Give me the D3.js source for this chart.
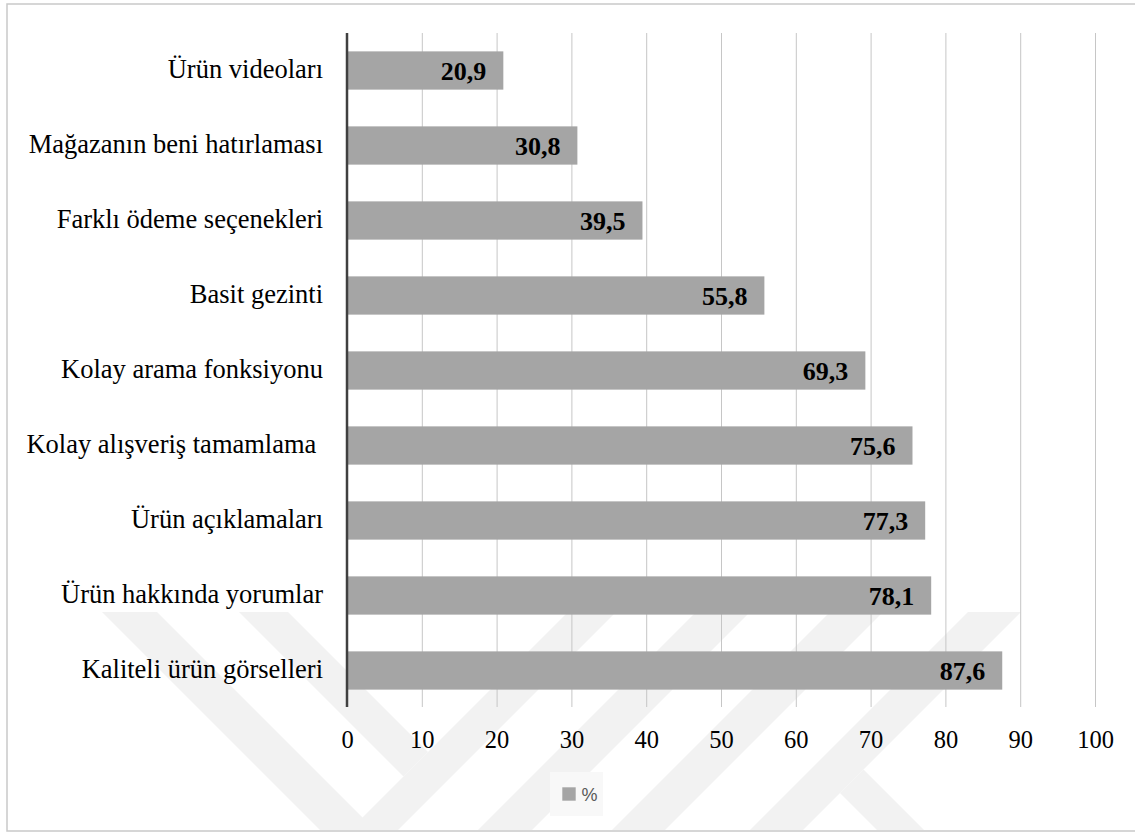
<!DOCTYPE html>
<html>
<head>
<meta charset="utf-8">
<script src="https://cdn.jsdelivr.net/npm/d3@7/dist/d3.min.js"></script>
<style>
  html, body { margin: 0; padding: 0; background: #ffffff; }
  svg { display: block; }
</style>
</head>
<body>
<svg id="chart" width="1135" height="832"></svg>
<script>
// Survey results: share of respondents (%) naming each feature
const categories = [
  "Ürün videoları",
  "Mağazanın beni hatırlaması",
  "Farklı ödeme seçenekleri",
  "Basit gezinti",
  "Kolay arama fonksiyonu",
  "Kolay alışveriş tamamlama ",
  "Ürün açıklamaları",
  "Ürün hakkında yorumlar",
  "Kaliteli ürün görselleri"
];
const values = [20.9, 30.8, 39.5, 55.8, 69.3, 75.6, 77.3, 78.1, 87.6];
const xTicks = [0, 10, 20, 30, 40, 50, 60, 70, 80, 90, 100];
const seriesName = "%";

const W = 1135, H = 832;
const plot = { left: 347, right: 1095, top: 33, bottom: 708 };
const serif = "'Liberation Serif', 'Times New Roman', serif";
const barColor = "#a5a5a5";

const svg = d3.select("#chart");

// Outer frame
svg.append("rect")
  .attr("x", 7).attr("y", 4)
  .attr("width", W + 10).attr("height", 827)
  .attr("fill", "#ffffff")
  .attr("stroke", "#c9c9c9").attr("stroke-width", 1.5);

// Faint background emblem made of diagonal bands
svg.append("defs").append("clipPath").attr("id", "wmClip")
  .append("rect").attr("x", 8).attr("y", 612).attr("width", W).attr("height", 218);
const wm = svg.append("g").attr("clip-path", "url(#wmClip)");
const emblem = [
  [[102, 612], [157, 612], [385, 840], [330, 840]],
  [[239, 612], [288, 612], [428, 752], [403.5, 776.5]],
  [[568, 612], [616, 612], [388, 840], [340, 840]],
  [[696, 612], [750, 612], [522, 840], [468, 840]],
  [[830, 612], [883, 612], [655, 840], [602, 840]],
  [[968, 612], [1021, 612], [793, 840], [740, 840]],
  [[863.5, 769.5], [934, 840], [887, 840], [840, 793]]
];
wm.selectAll("polygon").data(emblem).join("polygon")
  .attr("points", d => d.map(p => p.join(",")).join(" "))
  .attr("fill", "#f2f2f2");

// Scales
const x = d3.scaleLinear().domain([0, 100]).range([plot.left, plot.right]);
const y = d3.scaleBand().domain(categories)
  .range([plot.top, plot.bottom])
  .paddingInner(0.49).paddingOuter(0.245);

// Vertical gridlines
const grid = svg.append("g")
  .attr("transform", `translate(0,${plot.bottom - 1})`)
  .call(d3.axisBottom(x).tickValues(xTicks.filter(t => t > 0))
    .tickSize(-(plot.bottom - 1 - plot.top)).tickFormat(""));
grid.select(".domain").remove();
grid.selectAll(".tick line").attr("stroke", "#c6c6c6").attr("stroke-width", 1);

// Bars
svg.append("g").selectAll("rect")
  .data(values)
  .join("rect")
  .attr("x", x(0))
  .attr("y", (d, i) => y(categories[i]))
  .attr("width", d => x(d) - x(0))
  .attr("height", y.bandwidth())
  .attr("fill", barColor);

// Value labels inside the bar ends
svg.append("g").selectAll("text")
  .data(values)
  .join("text")
  .attr("x", d => x(d) - 17)
  .attr("y", (d, i) => y(categories[i]) + y.bandwidth() / 2)
  .attr("dy", "0.36em")
  .attr("text-anchor", "end")
  .attr("font-family", serif)
  .attr("font-size", 26)
  .attr("font-weight", "bold")
  .attr("fill", "#000000")
  .text(d => d3.format(".1f")(d).replace(".", ","));

// Category axis
const yAxis = svg.append("g")
  .attr("transform", `translate(${plot.left},0)`)
  .attr("font-family", serif)
  .call(d3.axisLeft(y).tickSize(0).tickPadding(24));
yAxis.attr("font-family", serif);
yAxis.select(".domain").remove();
yAxis.selectAll(".tick text")
  .attr("font-family", serif)
  .attr("font-size", 26.5)
  .attr("fill", "#000000")
  .attr("dy", "0.3em")
  .style("white-space", "pre");

svg.append("line")
  .attr("x1", x(0)).attr("x2", x(0))
  .attr("y1", plot.top).attr("y2", plot.bottom - 1)
  .attr("stroke", "#404040").attr("stroke-width", 2.5);

// Value axis labels
const xAxis = svg.append("g")
  .attr("transform", `translate(0,${plot.bottom - 1})`)
  .call(d3.axisBottom(x).tickValues(xTicks).tickSize(0).tickPadding(24)
    .tickFormat(d3.format("d")));
xAxis.attr("font-family", serif);
xAxis.select(".domain").remove();
xAxis.selectAll(".tick text")
  .attr("font-family", serif)
  .attr("font-size", 24.5)
  .attr("fill", "#000000");

// Legend
const legend = svg.append("g");
legend.append("rect")
  .attr("x", 550).attr("y", 772).attr("width", 53).attr("height", 44)
  .attr("fill", "#f8f8f8");
legend.append("rect")
  .attr("x", 562.3).attr("y", 787.3).attr("width", 13.4).attr("height", 13.4)
  .attr("fill", barColor);
legend.append("text")
  .attr("x", 581.5).attr("y", 800.5)
  .attr("font-family", "'Liberation Sans', Arial, sans-serif")
  .attr("font-size", 18)
  .attr("fill", "#595959")
  .text(seriesName);
</script>
</body>
</html>
